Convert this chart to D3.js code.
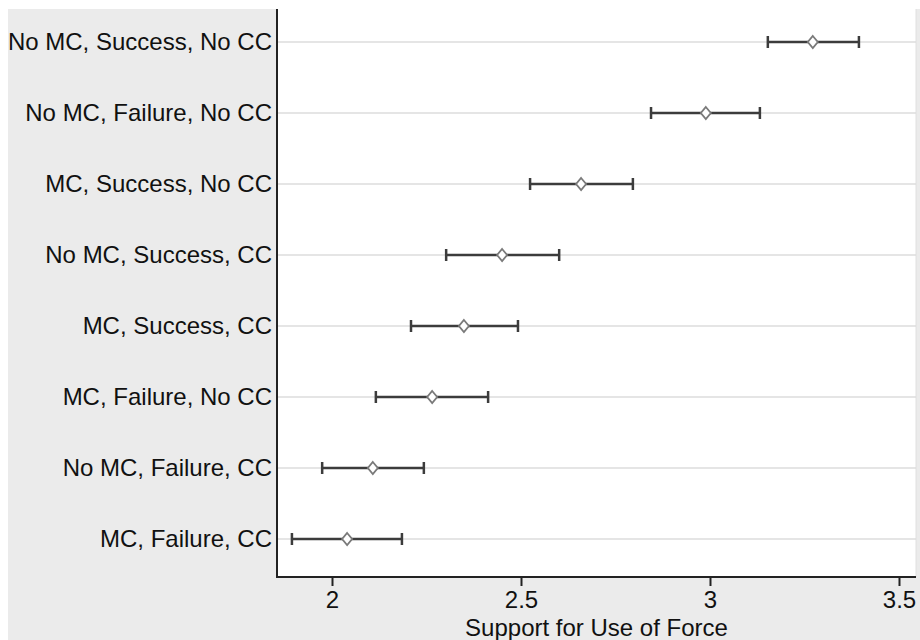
<!DOCTYPE html>
<html>
<head>
<meta charset="utf-8">
<script src="https://cdn.jsdelivr.net/npm/d3@7"></script>
<style>
  html, body { margin: 0; padding: 0; background: #ffffff; }
  svg { display: block; }
  text { font-family: "Liberation Sans", Arial, Helvetica, sans-serif; fill: #111; }
</style>
</head>
<body>
<svg id="chart" width="920" height="640"></svg>
<script>
const categories = [
  "No MC, Success, No CC",
  "No MC, Failure, No CC",
  "MC, Success, No CC",
  "No MC, Success, CC",
  "MC, Success, CC",
  "MC, Failure, No CC",
  "No MC, Failure, CC",
  "MC, Failure, CC"
];
const estimates = [3.272, 2.989, 2.659, 2.450, 2.349, 2.265, 2.108, 2.040];
const lowerCI   = [3.153, 2.844, 2.524, 2.302, 2.209, 2.116, 1.974, 1.894];
const upperCI   = [3.394, 3.132, 2.796, 2.601, 2.492, 2.413, 2.243, 2.185];
const xTicks = [2, 2.5, 3, 3.5];
const xTitle = "Support for Use of Force";

const rows = categories.map((c, i) => ({ cat: c, est: estimates[i], lo: lowerCI[i], hi: upperCI[i] }));

const svg = d3.select("#chart");
const W = 920, H = 640;
const bg = { x: 8, y: 9 };
const plot = { left: 277, right: 916, top: 9, bottom: 577 };

// figure background
svg.append("rect").attr("x", bg.x).attr("y", bg.y).attr("width", W - bg.x).attr("height", H - bg.y).attr("fill", "#ebebeb");
// plot background
svg.append("rect").attr("x", plot.left).attr("y", plot.top)
  .attr("width", plot.right - plot.left).attr("height", plot.bottom - plot.top).attr("fill", "#ffffff");
svg.append("line").attr("x1", plot.right).attr("x2", plot.right).attr("y1", plot.top).attr("y2", plot.bottom)
  .attr("stroke", "#e0e0e0").attr("stroke-width", 1);

const x = d3.scaleLinear().domain([1.8545, 3.545]).range([plot.left, plot.right]);
const y = d3.scalePoint().domain(categories).range([42, 539]);

// gridlines
svg.append("g").selectAll("line").data(categories).join("line")
  .attr("x1", plot.left).attr("x2", plot.right)
  .attr("y1", d => y(d)).attr("y2", d => y(d))
  .attr("stroke", "#dcdcdc").attr("stroke-width", 1.5);

// y axis
const yAxis = svg.append("g").attr("transform", `translate(${plot.left},0)`)
  .call(d3.axisLeft(y).tickSize(0).tickPadding(5));
yAxis.select(".domain").remove();
yAxis.selectAll("text").style("font-size", "24px").attr("fill", "#111")
  .style("font-family", "'Liberation Sans', Arial, sans-serif");

svg.append("line").attr("x1", plot.left).attr("x2", plot.left).attr("y1", plot.top).attr("y2", plot.bottom + 1)
  .attr("stroke", "#222").attr("stroke-width", 2);

// x axis
const xAxis = svg.append("g").attr("transform", `translate(0,${plot.bottom})`)
  .call(d3.axisBottom(x).tickValues(xTicks).tickFormat(d3.format("")).tickSize(9).tickPadding(5));
xAxis.select(".domain").remove();
xAxis.selectAll(".tick line").attr("stroke", "#222").attr("stroke-width", 2);
xAxis.selectAll("text").style("font-size", "24px").attr("fill", "#111")
  .style("font-family", "'Liberation Sans', Arial, sans-serif");
svg.append("line").attr("x1", plot.left - 1).attr("x2", plot.right).attr("y1", plot.bottom).attr("y2", plot.bottom)
  .attr("stroke", "#222").attr("stroke-width", 2);

svg.append("text").attr("x", (plot.left + plot.right) / 2).attr("y", 636)
  .attr("text-anchor", "middle").style("font-size", "24px").text(xTitle);

// error bars
const g = svg.append("g");
g.selectAll("line.ci").data(rows).join("line").attr("class", "ci")
  .attr("x1", d => x(d.lo)).attr("x2", d => x(d.hi))
  .attr("y1", d => y(d.cat)).attr("y2", d => y(d.cat))
  .attr("stroke", "#3c3c3c").attr("stroke-width", 2.5);
g.selectAll("line.capl").data(rows).join("line").attr("class", "capl")
  .attr("x1", d => x(d.lo)).attr("x2", d => x(d.lo))
  .attr("y1", d => y(d.cat) - 6).attr("y2", d => y(d.cat) + 6)
  .attr("stroke", "#3c3c3c").attr("stroke-width", 2.5);
g.selectAll("line.caph").data(rows).join("line").attr("class", "caph")
  .attr("x1", d => x(d.hi)).attr("x2", d => x(d.hi))
  .attr("y1", d => y(d.cat) - 6).attr("y2", d => y(d.cat) + 6)
  .attr("stroke", "#3c3c3c").attr("stroke-width", 2.5);

// diamonds
g.selectAll("path.pt").data(rows).join("path").attr("class", "pt")
  .attr("transform", d => `translate(${x(d.est)},${y(d.cat)})`)
  .attr("d", "M0,-6L5,0L0,6L-5,0Z")
  .attr("fill", "#ffffff").attr("stroke", "#7a7a7a").attr("stroke-width", 1.8);
</script>
</body>
</html>
